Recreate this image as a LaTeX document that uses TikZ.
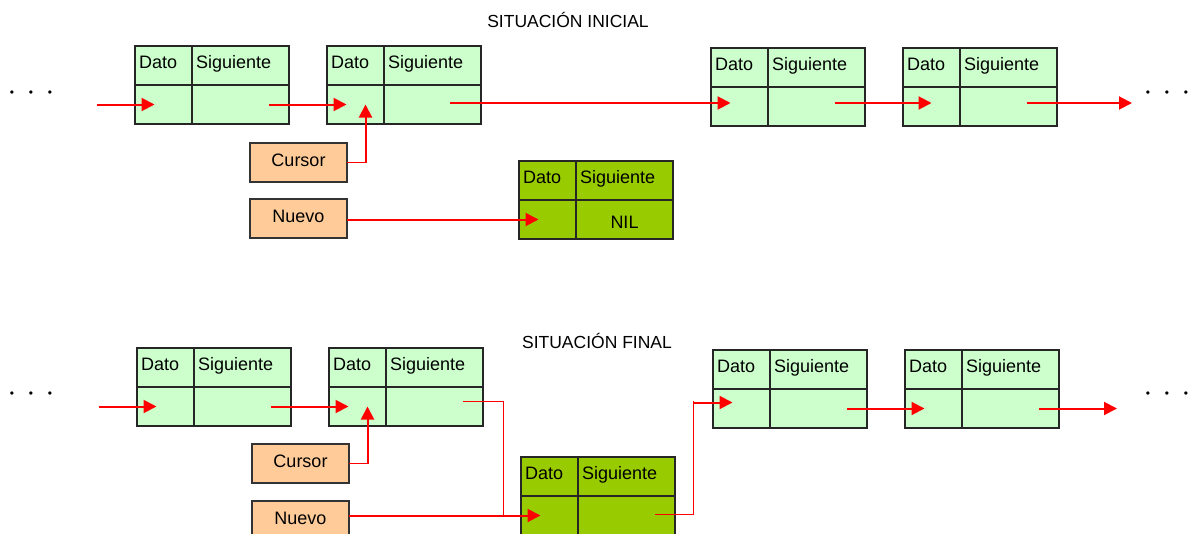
\documentclass[tikz,border=0pt]{standalone}
\usepackage{fontspec}
\setmainfont{Liberation Sans}
\usetikzlibrary{arrows.meta, positioning, calc}
\definecolor{listaverde}{HTML}{CCFFCC}
\definecolor{nuevoverde}{HTML}{99CC00}
\definecolor{punteronaranja}{HTML}{FFCC99}
\definecolor{flecharoja}{HTML}{FF0000}

% un elemento de la lista: [texto de Siguiente]{nombre}{esquina}{relleno}
\newcommand{\elemento}[4][]{%
  \node[celda, colDato, fill=#4, anchor=north west] (#2-dt) at (#3) {};
  \node[celda, colSig, fill=#4, right=0pt of #2-dt] (#2-sg) {};
  \node[celda, colDato, fill=#4, below=0pt of #2-dt] (#2-p) {};
  \node[celda, colSig, fill=#4, below=0pt of #2-sg] (#2-n) {#1};
  \node[rotulo, right=4pt of #2-dt.west, yshift=2pt] (#2-tdt) {Dato};
  \node[rotulo, right=4pt of #2-sg.west, yshift=2pt] (#2-tsg) {Siguiente};
  \coordinate (#2-in) at ($(#2-p.center)+(-9,0)$);
  \coordinate (#2-out) at ($(#2-n.east)+(-20,0)$);
}

\begin{document}
\begin{tikzpicture}[
  x=1pt, y=-1pt,
  celda/.style={draw=black!85, line width=1.2pt, minimum height=39pt, inner sep=0pt, outer sep=0pt,
    text height=18pt, text depth=0pt, font=\fontsize{18}{20}\selectfont},
  colDato/.style={minimum width=57pt},
  colSig/.style={minimum width=97pt},
  rotulo/.style={inner sep=0pt, text height=13pt, text depth=4pt, font=\fontsize{18}{20}\selectfont},
  puntero/.style={draw=black!80, line width=1.2pt, fill=punteronaranja, minimum width=97pt, minimum height=39pt,
    inner sep=0pt, outer sep=0pt, text height=13pt, text depth=6pt, font=\fontsize{18}{20}\selectfont},
  titulo/.style={font=\fontsize{17.5}{20}\selectfont},
  puntos/.style={inner sep=0pt, font=\fontsize{12}{12}\selectfont},
  enlace/.style={flecharoja, line width=2pt, -{Triangle[length=13pt, width=13pt]}},
  tramo/.style={flecharoja, line width=1pt}
]
\clip (0,0) rectangle (1189,533);
\fill[white] (0,0) rectangle (1189,533);

% situacion inicial
\node[titulo] (inicial) at (568,20) {SITUACIÓN INICIAL};
\node[puntos] (izq1) at (31,94) {\textbullet\hspace{14.8pt}\textbullet\hspace{14.8pt}\textbullet};
\node[puntos] (der1) at (1167,94) {\textbullet\hspace{14.8pt}\textbullet\hspace{14.8pt}\textbullet};
\elemento{A1}{135,46}{listaverde}
\elemento{B1}{327,46}{listaverde}
\elemento{C1}{711,48}{listaverde}
\elemento{D1}{903,48}{listaverde}
\elemento[NIL]{N1}{519,161}{nuevoverde}
\node[puntero, anchor=north west] (cursor1) at (250,143) {Cursor};
\node[puntero, anchor=north west] (nuevo1) at (250,199) {Nuevo};
\coordinate (ini1) at ($(A1-in)+(-58,0)$);
\coordinate (fin1) at ($(D1-out)+(95,0)$);
\coordinate (B1-up) at ($(B1-p.center)+(10,0)$);

\draw[enlace] (ini1) -- (A1-in);
\draw[enlace] (A1-out) -- (B1-in);
\draw[enlace] ([xshift=-11pt, yshift=1.5pt]B1-out) -- ([yshift=3.5pt]C1-in);
\draw[enlace] ([xshift=-10pt, yshift=3.5pt]C1-out) -- ([yshift=3.5pt]D1-p.center);
\draw[enlace] ([xshift=-10pt, yshift=3.5pt]D1-out) -- ([yshift=3.5pt]fin1);
\draw[tramo] (cursor1.east) -- (cursor1.east -| B1-up);
\draw[enlace] (cursor1.east -| B1-up) -- (B1-up);
\draw[enlace] (nuevo1.east |- N1-in) -- (N1-in);

% situacion final
\node[titulo] (final) at (597,341) {SITUACIÓN FINAL};
\node[puntos] (izq2) at (31,395) {\textbullet\hspace{14.8pt}\textbullet\hspace{14.8pt}\textbullet};
\node[puntos] (der2) at (1167,395) {\textbullet\hspace{14.8pt}\textbullet\hspace{14.8pt}\textbullet};
\elemento{A2}{137,348}{listaverde}
\elemento{B2}{329,348}{listaverde}
\elemento{C2}{713,350}{listaverde}
\elemento{D2}{905,350}{listaverde}
\elemento{N2}{521,457}{nuevoverde}
\node[puntero, anchor=north west] (cursor2) at (252,444) {Cursor};
\node[puntero, anchor=north west] (nuevo2) at (252,501) {Nuevo};
\coordinate (ini2) at ($(A2-in)+(-58,0)$);
\coordinate (fin2) at ($(D2-out)+(78,0)$);
\coordinate (B2-up) at ($(B2-p.center)+(10,0)$);
\coordinate (bajada) at (503,517);
\coordinate (subida) at ($(C2-in)+(-39,-6)$);

\draw[enlace] (ini2) -- (A2-in);
\draw[enlace] (A2-out) -- (B2-in);
\draw[tramo] (cursor2.east) -- (cursor2.east -| B2-up);
\draw[enlace] (cursor2.east -| B2-up) -- (B2-up);
\draw[tramo] ([yshift=5pt]B2-out) -| (bajada);
\draw[enlace] (nuevo2.east |- N2-in) -- (N2-in);
\draw[tramo] ([yshift=1pt]N2-out) -| ([yshift=2pt]subida);
\draw[enlace] (subida) -- (subida -| C2-in);
\draw[enlace] (C2-out) -- (D2-in);
\draw[enlace] (D2-out) -- (fin2);
\end{tikzpicture}
\end{document}
